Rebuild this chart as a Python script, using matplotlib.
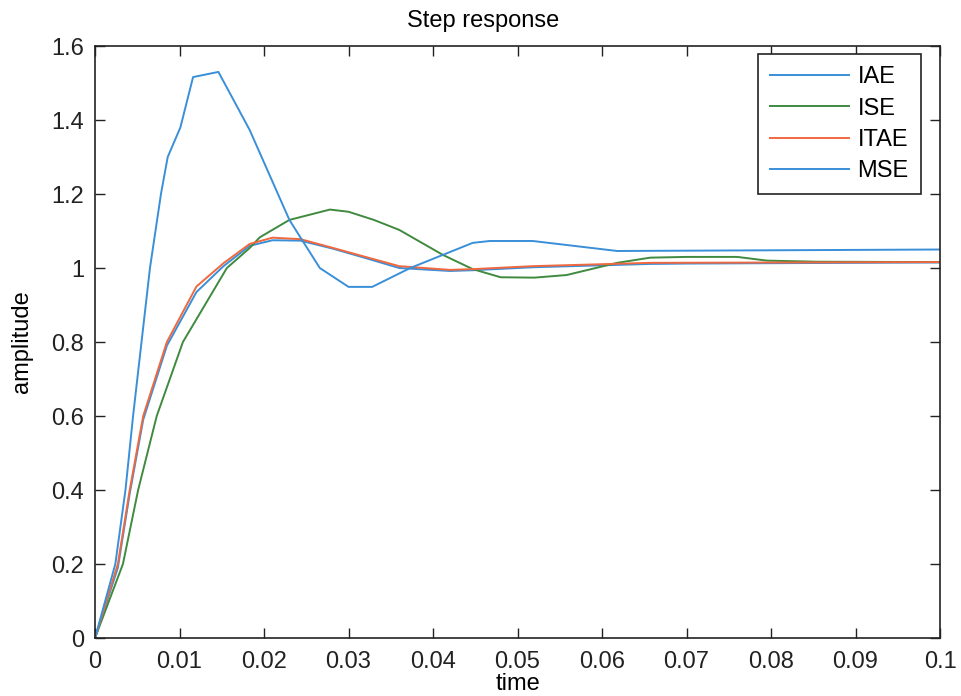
import matplotlib
matplotlib.use("Agg")
from matplotlib import pyplot as plt

plt.rcParams['font.family'] = ['Liberation Sans', 'DejaVu Sans']

# Step responses of the tuned loops (time in s, amplitude)
t_iae = [0, 0.0027, 0.0041, 0.0057, 0.0085, 0.012, 0.0152, 0.0183, 0.021, 0.0243,
         0.0282, 0.032, 0.036, 0.042, 0.0447, 0.0518, 0.0657, 0.07, 0.1]
y_iae = [0, 0.19, 0.39, 0.59, 0.79, 0.935, 1.005, 1.06, 1.075, 1.074,
         1.052, 1.027, 1.0, 0.992, 0.994, 1.002, 1.011, 1.012, 1.015]

t_ise = [0, 0.0033, 0.0051, 0.0073, 0.0104, 0.0156, 0.0183, 0.0195, 0.023, 0.0278,
         0.030, 0.033, 0.036, 0.0412, 0.0447, 0.048, 0.052, 0.0558, 0.0618, 0.0657,
         0.07, 0.076, 0.0795, 0.0854, 0.1]
y_ise = [0, 0.2, 0.4, 0.6, 0.8, 1.0, 1.054, 1.083, 1.13, 1.158,
         1.152, 1.13, 1.103, 1.035, 0.997, 0.975, 0.974, 0.981, 1.014, 1.028,
         1.03, 1.03, 1.02, 1.017, 1.016]

t_itae = [0, 0.0027, 0.0041, 0.0057, 0.0085, 0.012, 0.0152, 0.0183, 0.021, 0.0243,
          0.0282, 0.032, 0.036, 0.042, 0.0447, 0.0518, 0.0657, 0.1]
y_itae = [0, 0.2, 0.4, 0.6, 0.8, 0.95, 1.013, 1.065, 1.082, 1.078,
          1.054, 1.03, 1.005, 0.995, 0.997, 1.005, 1.014, 1.016]

t_mse = [0, 0.0024, 0.0036, 0.0045, 0.0055, 0.0065, 0.0078, 0.0086, 0.0101, 0.0116,
         0.0146, 0.0183, 0.023, 0.0266, 0.030, 0.0328, 0.0373, 0.0447, 0.0467, 0.0518,
         0.0618, 0.1]
y_mse = [0, 0.2, 0.4, 0.6, 0.8, 1.0, 1.2, 1.3, 1.38, 1.516,
         1.53, 1.373, 1.13, 1.0, 0.949, 0.949, 1.0, 1.068, 1.073, 1.073,
         1.046, 1.05]

labels = ["IAE", "ISE", "ITAE", "MSE"]
colors = ["#3a8fd9", "#3f8a3f", "#f0683f", "#3a8fd9"]

x_ticks = [0, 0.01, 0.02, 0.03, 0.04, 0.05, 0.06, 0.07, 0.08, 0.09, 0.1]
x_ticklabels = ["0", "0.01", "0.02", "0.03", "0.04", "0.05", "0.06", "0.07", "0.08", "0.09", "0.1"]
y_ticks = [0, 0.2, 0.4, 0.6, 0.8, 1.0, 1.2, 1.4, 1.6]
y_ticklabels = ["0", "0.2", "0.4", "0.6", "0.8", "1", "1.2", "1.4", "1.6"]

fig = plt.figure(figsize=(9.61, 6.96), dpi=100)
ax = fig.add_axes([0.0989, 0.0833, 0.8793, 0.8506])

series = [(t_iae, y_iae), (t_ise, y_ise), (t_itae, y_itae), (t_mse, y_mse)]
for (t, y), lab, c in zip(series, labels, colors):
    ax.plot(t, y, color=c, lw=1.4, label=lab)

ax.set_xlim(0, 0.1)
ax.set_ylim(0, 1.6)
ax.set_xticks(x_ticks)
ax.set_xticklabels(x_ticklabels)
ax.set_yticks(y_ticks)
ax.set_yticklabels(y_ticklabels)
ax.tick_params(direction="in", top=True, right=True, length=7, width=1,
               labelsize=17, colors="#222222")
ax.tick_params(axis="x", pad=9)
ax.tick_params(axis="y", pad=8)
for s in ax.spines.values():
    s.set_linewidth(1.2)
    s.set_color("#222222")

ax.set_title("Step response", fontsize=17, x=0.459, pad=14)
ax.set_xlabel("time", fontsize=17, labelpad=0)
ax.set_ylabel("amplitude", fontsize=17)
ax.yaxis.set_label_coords(-0.074, 0.5)

leg = ax.legend(loc="upper right", bbox_to_anchor=(0.977, 0.986), borderaxespad=0,
                fontsize=17, handlelength=3.35, handletextpad=0.35, labelspacing=0.4,
                borderpad=0.5, fancybox=False, framealpha=1, edgecolor="#222222")
leg.get_frame().set_linewidth(1.2)

fig.savefig("out.png", dpi=100)
plt.close(fig)
